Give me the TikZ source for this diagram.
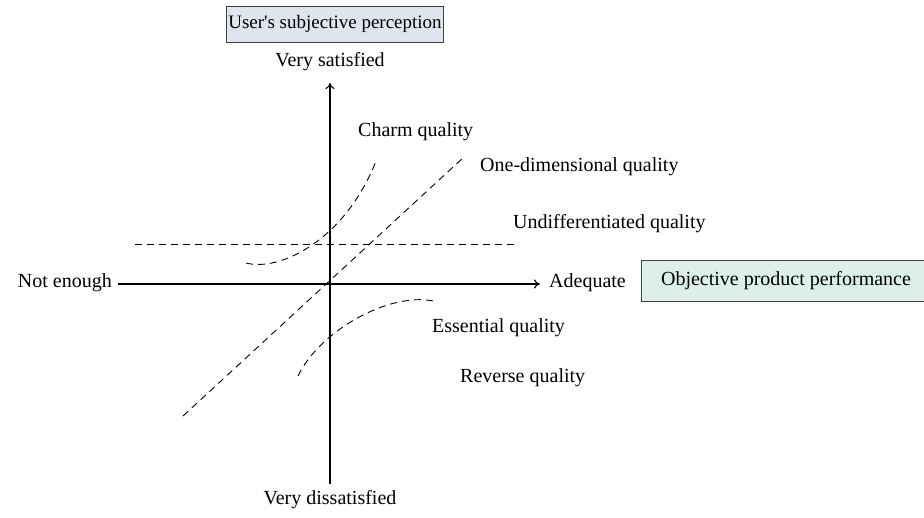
\documentclass[tikz,border=0pt]{standalone}
\usepackage{fontspec}
\setmainfont{Liberation Serif}
\usetikzlibrary{arrows.meta}
\begin{document}
\begin{tikzpicture}[x=1pt,y=-1pt,
  lbl/.style={font=\fontsize{20}{24}\selectfont, inner sep=0pt},
  axis/.style={line width=1.1pt,-{To[length=6pt,width=9pt]}},
  dsh/.style={line width=0.9pt, dash pattern=on 7pt off 5pt},
  boxA/.style={draw=black!75, line width=0.9pt, fill=boxblue, minimum width=216pt, minimum height=36pt, inner xsep=2pt, font=\fontsize{19}{24}\selectfont},
  boxB/.style={draw=black!75, line width=0.9pt, fill=boxteal, minimum width=290pt, minimum height=41pt, lbl}]
\definecolor{boxblue}{HTML}{DFE5EF}
\definecolor{boxteal}{HTML}{DCEFEA}
\useasboundingbox (0,0) rectangle (924,518);
% axes
\coordinate (xl) at (118,284);
\coordinate (xr) at (540,284);
\coordinate (yb) at (330,484);
\coordinate (yt) at (330,83);
\draw[axis] (xl) -- (xr);
\draw[axis] (yb) -- (yt);
% curves
\coordinate (ch0) at (246,263);
\coordinate (ch1) at (376,161);
\draw[dsh] (ch0) .. controls (280,272) and (345,240) .. (ch1);
\coordinate (od0) at (183,416);
\coordinate (od1) at (464,157);
\draw[dsh] (od0) -- (od1);
\coordinate (ud0) at (135,244);
\coordinate (ud1) at (518,244);
\draw[dsh] (ud0) -- (ud1);
\coordinate (es0) at (298,376);
\coordinate (es1) at (433,301);
\draw[dsh] (es0) .. controls (320,330) and (390,292) .. (es1);
% labels
\node[boxA] (ua) at (335,24) {User\textquotesingle s subjective perception};
\node[boxB] (ob) at (786,281) {Objective product performance};
\node[lbl] (vs) at (330,62) {Very satisfied};
\node[lbl] (vd) at (330,500) {Very dissatisfied};
\node[lbl,anchor=east] (ne) at (112,283) {Not enough};
\node[lbl,anchor=west] (ad) at (549,283) {Adequate};
\node[lbl,anchor=west] (cq) at (358,132) {Charm quality};
\node[lbl,anchor=west] (oq) at (480,167) {One-dimensional quality};
\node[lbl,anchor=west] (uq) at (513,224) {Undifferentiated quality};
\node[lbl,anchor=west] (eq) at (432,328) {Essential quality};
\node[lbl,anchor=west] (rq) at (460,378) {Reverse quality};
\end{tikzpicture}
\end{document}
